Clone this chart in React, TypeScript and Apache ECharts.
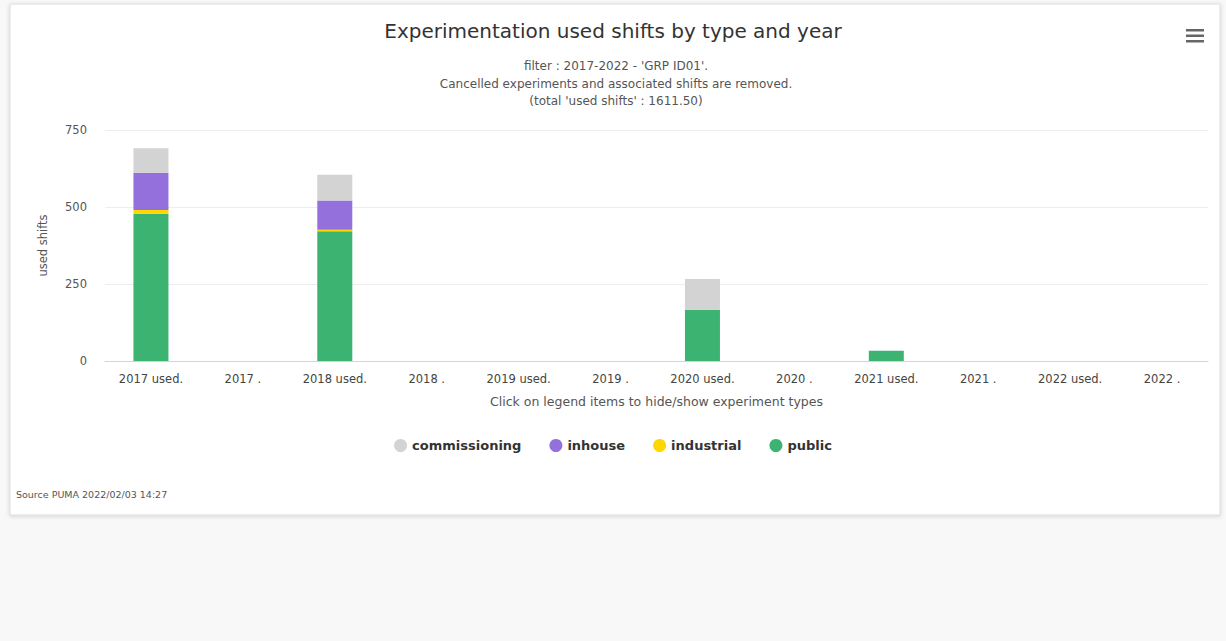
import React, { useEffect, useRef } from "react";
import * as echarts from "echarts";

const categories = [
  "2017 used.", "2017 .", "2018 used.", "2018 .", "2019 used.", "2019 .",
  "2020 used.", "2020 .", "2021 used.", "2021 .", "2022 used.", "2022 .",
];
const commissioning = [80, 0, 84, 0, 0, 0, 100, 0, 0, 0, 0, 0];
const inhouse = [121, 0, 95, 0, 0, 0, 0, 0, 0, 0, 0, 0];
const industrial = [12, 0, 5, 0, 0, 0, 0, 0, 0, 0, 0, 0];
const publicShifts = [478, 0, 421, 0, 0, 0, 166, 0, 33, 0, 0, 0];
const yTicks = [0, 250, 500, 750];
const subtitleLines = [
  "filter : 2017-2022 - 'GRP ID01'.",
  "Cancelled experiments and associated shifts are removed.",
  "(total 'used shifts' : 1611.50)",
];

const FONT = "DejaVu Sans";

export default function App() {
  const ref = useRef<HTMLDivElement>(null);
  useEffect(() => {
    if (!ref.current) return;
    const chart = echarts.init(ref.current, null, { renderer: "svg" });
    const mk = (name: string, data: number[], color: string) => ({
      name,
      type: "bar",
      stack: "used",
      data: data.map((v) => (v === 0 ? null : v)),
      barWidth: 35,
      itemStyle: { color },
      emphasis: { disabled: true },
    });
    chart.setOption({
      animation: false,
      backgroundColor: "#f8f8f8",
      textStyle: { fontFamily: FONT },
      graphic: [
        {
          type: "rect",
          shape: { x: 10, y: 4, width: 1210, height: 511 },
          style: {
            fill: "#ffffff",
            stroke: "#dcdcdc",
            lineWidth: 1,
            shadowBlur: 4,
            shadowColor: "rgba(0,0,0,0.15)",
            shadowOffsetY: 1,
          },
          z: -10,
        },
        { type: "rect", shape: { x: 1186, y: 29, width: 18, height: 2.5 }, style: { fill: "#666" } },
        { type: "rect", shape: { x: 1186, y: 34.5, width: 18, height: 2.5 }, style: { fill: "#666" } },
        { type: "rect", shape: { x: 1186, y: 40, width: 18, height: 2.5 }, style: { fill: "#666" } },
        ...subtitleLines.map((t, i) => ({
          type: "text",
          x: 616,
          y: 66 + i * 17.5,
          style: {
            text: t,
            fill: "#555",
            font: `12px ${FONT}`,
            textAlign: "center",
            textVerticalAlign: "middle",
          },
        })),
        {
          type: "text",
          left: 16,
          top: 489,
          style: { text: "Source PUMA 2022/02/03 14:27", fill: "#555", font: `9.5px ${FONT}` },
        },
      ],
      title: [
        {
          text: "Experimentation used shifts by type and year",
          left: "center",
          top: 16,
          textStyle: { fontFamily: FONT, fontSize: 20, fontWeight: "normal", color: "#333" },
        },
      ],
      legend: {
        data: ["commissioning", "inhouse", "industrial", "public"],
        left: "center",
        top: 434,
        icon: "circle",
        itemWidth: 13,
        itemHeight: 13,
        itemGap: 28,
        textStyle: { fontFamily: FONT, fontSize: 13, fontWeight: "bold", color: "#333" },
      },
      grid: { left: 105, right: 18, top: 130, bottom: 280, containLabel: false },
      xAxis: {
        type: "category",
        data: categories,
        name: "Click on legend items to hide/show experiment types",
        nameLocation: "middle",
        nameGap: 34,
        nameTextStyle: { fontFamily: FONT, fontSize: 12.5, color: "#555" },
        axisLine: { lineStyle: { color: "#ccd6eb" } },
        axisTick: { show: false },
        axisLabel: { fontFamily: FONT, fontSize: 11.5, color: "#444", margin: 12, interval: 0 },
      },
      yAxis: {
        type: "value",
        min: 0,
        max: yTicks[yTicks.length - 1],
        interval: 250,
        name: "used shifts",
        nameLocation: "middle",
        nameGap: 56,
        nameRotate: 90,
        nameTextStyle: { fontFamily: FONT, fontSize: 11.5, color: "#555" },
        axisLine: { show: false },
        axisTick: { show: false },
        axisLabel: { fontFamily: FONT, fontSize: 11.5, color: "#555", margin: 18 },
        splitLine: { lineStyle: { color: "#ededed" } },
      },
      series: [
        mk("public", publicShifts, "#3cb371"),
        mk("industrial", industrial, "#ffd700"),
        mk("inhouse", inhouse, "#9370db"),
        mk("commissioning", commissioning, "#d3d3d3"),
      ],
    });
    return () => chart.dispose();
  }, []);
  return (
    <div
      ref={ref}
      style={{ position: "absolute", left: 0, top: 0, width: 1226, height: 641 }}
    />
  );
}
